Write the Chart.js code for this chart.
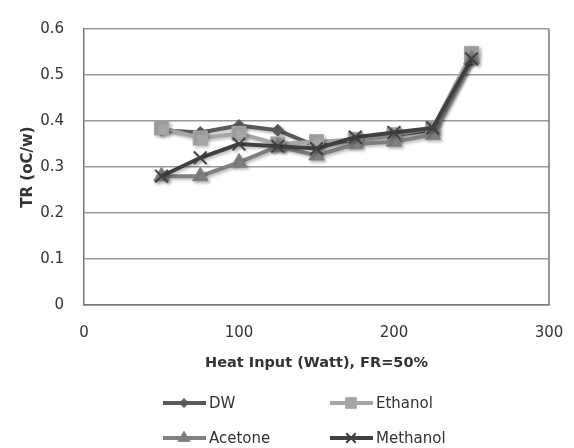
<!DOCTYPE html>
<html>
<head>
<meta charset="utf-8">
<script src="https://cdn.jsdelivr.net/npm/chart.js@4"></script>
<style>
  html, body { margin: 0; padding: 0; background: #fff; overflow: hidden; }
  #wrap { width: 574px; height: 448px; }
  canvas { display: block; }
</style>
</head>
<body>
<div id="wrap"><canvas id="tr"></canvas></div>
<script>
var xValues = [50, 75, 100, 125, 150, 175, 200, 225, 250];
var dw = [0.38, 0.375, 0.39, 0.38, 0.345, 0.36, 0.37, 0.38, 0.535];
var ethanol = [0.385, 0.363, 0.373, 0.35, 0.355, 0.36, 0.37, 0.385, 0.547];
var acetone = [0.28, 0.28, 0.31, 0.345, 0.325, 0.35, 0.355, 0.37, 0.535];
var methanol = [0.28, 0.32, 0.35, 0.345, 0.34, 0.365, 0.375, 0.385, 0.535];

const seriesNames = ["DW", "Ethanol", "Acetone", "Methanol"];
const seriesColors = ["#595959", "#a6a6a6", "#808080", "#404040"];
const seriesMarkers = ["rectRot", "rect", "triangle", "crossRot"];
const markerSizes = [6, 10, 9, 9];

const FONT = "DejaVu Sans";

function pts(ys) {
  return xValues.map(function (x, i) { return {x: x, y: ys[i]}; });
}

var allY = [dw, ethanol, acetone, methanol];
var datasets = allY.map(function (ys, i) {
  return {
    label: seriesNames[i],
    data: pts(ys),
    borderColor: seriesColors[i],
    backgroundColor: seriesColors[i],
    borderWidth: 4,
    pointStyle: seriesMarkers[i],
    pointRadius: markerSizes[i],
    pointBorderWidth: seriesMarkers[i] == "crossRot" ? 2 : 1,
    showLine: true,
    fill: false,
    tension: 0,
    order: 4 - i
  };
});

// plot frame (right edge), soft shadow like the original, 2x2 legend
const frame = {
  id: "frame",
  beforeDatasetsDraw(chart) {
    const ctx = chart.ctx;
    ctx.save();
    ctx.shadowColor = "rgba(0,0,0,0.25)";
    ctx.shadowOffsetX = 2;
    ctx.shadowOffsetY = 2;
    ctx.shadowBlur = 3;
  },
  afterDatasetsDraw(chart) {
    chart.ctx.restore();
  },
  afterDraw(chart) {
    const ctx = chart.ctx, a = chart.chartArea;
    ctx.save();
    ctx.strokeStyle = "#777";
    ctx.lineWidth = 1.5;
    ctx.beginPath();
    ctx.moveTo(a.right, a.top);
    ctx.lineTo(a.right, a.bottom);
    ctx.stroke();

    const cols = [163, 330], rows = [403, 438];
    ctx.font = "15px '" + FONT + "'";
    ctx.textBaseline = "middle";
    chart.data.datasets.forEach(function (ds, i) {
      const x = cols[i % 2], y = rows[Math.floor(i / 2)];
      ctx.strokeStyle = ds.borderColor;
      ctx.fillStyle = ds.backgroundColor;
      ctx.lineWidth = 4;
      ctx.beginPath();
      ctx.moveTo(x, y);
      ctx.lineTo(x + 43, y);
      ctx.stroke();
      ctx.lineWidth = ds.pointBorderWidth;
      Chart.helpers.drawPoint(ctx, {pointStyle: ds.pointStyle, radius: ds.pointRadius * 0.75, rotation: 0, borderWidth: ds.pointBorderWidth}, x + 21, y);
      ctx.fillStyle = "#333";
      ctx.fillText(ds.label, x + 46, y + 1);
    });
    ctx.restore();
  }
};

new Chart("tr", {
  type: "scatter",
  data: {datasets: datasets},
  plugins: [frame],
  options: {
    responsive: true,
    maintainAspectRatio: false,
    animation: false,
    layout: {padding: {left: 0, top: 16, right: 25, bottom: 73}},
    plugins: {legend: {display: false}, tooltip: {enabled: false}},
    scales: {
      x: {
        type: "linear",
        min: 0, max: 300,
        ticks: {stepSize: 100, padding: 19, color: "#333", font: {family: FONT, size: 15}},
        grid: {display: false, drawTicks: false},
        border: {display: true, color: "#777", width: 1.5},
        title: {display: true, text: "Heat Input (Watt), FR=50%", color: "#333",
                font: {family: FONT, size: 14.5, weight: "bold"}, padding: {top: 0, bottom: 3}},
        afterFit: function (s) { s.height = 70; s.paddingLeft = 0; s.paddingRight = 0; }
      },
      y: {
        min: 0, max: 0.6,
        ticks: {stepSize: 0.1, padding: 20, color: "#333", font: {family: FONT, size: 15}},
        grid: {color: "#9a9a9a", lineWidth: 1.5, drawTicks: false},
        border: {display: true, color: "#777", width: 1.5},
        title: {display: true, text: "TR (oC/w)", color: "#333",
                font: {family: FONT, size: 15, weight: "bold"}, padding: {top: 19, bottom: 0}},
        afterFit: function (s) { s.width = 84; }
      }
    }
  }
});
</script>
</body>
</html>
